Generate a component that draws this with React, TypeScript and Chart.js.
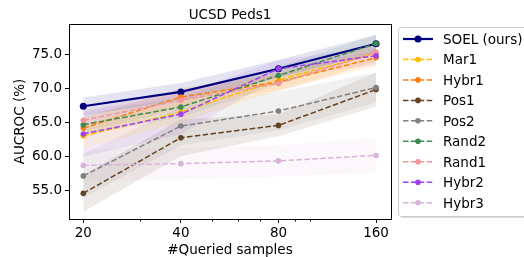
import React, { useEffect, useRef } from "react";
import { Chart, registerables } from "chart.js";

Chart.register(...registerables);

const queried = [20, 40, 80, 160];
const xTickLabels = ["20", "40", "80", "160"];
const xMinorTicks = [30, 50, 60, 70, 90, 100];
const yTicks = [55, 60, 65, 70, 75];

const seriesNames = ["SOEL (ours)", "Mar1", "Hybr1", "Pos1", "Pos2", "Rand2", "Rand1", "Hybr2", "Hybr3"];
const seriesColors = ["#000080", "#ffbf00", "#ff7f0e", "#654321", "#808080", "#3d8b4f", "#f0959b", "#a040f0", "#d8b4d8"];

const soel = [67.35, 69.45, 72.85, 76.5];
const mar1 = [63.0, 66.5, 71.2, 75.1];
const hybr1 = [64.15, 68.7, 70.9, 74.45];
const pos1 = [54.6, 62.75, 64.55, 69.8];
const pos2 = [57.15, 64.45, 66.65, 70.1];
const rand2 = [64.65, 67.25, 71.85, 76.55];
const rand1 = [65.3, 68.25, 70.7, 75.25];
const hybr2 = [63.3, 66.2, 72.85, 74.75];
const hybr3 = [58.7, 58.95, 59.35, 60.15];

const soelStd = [1.3, 1.3, 1.3, 1.3];
const mar1Std = [1.8, 1.5, 1.5, 1.3];
const hybr1Std = [1.5, 1.3, 1.2, 1.2];
const pos1Std = [2.7, 2.7, 1.6, 2.5];
const pos2Std = [3.2, 2.8, 2.8, 2.2];
const rand2Std = [1.5, 1.5, 1.3, 1.3];
const rand1Std = [1.5, 1.5, 1.3, 1.3];
const hybr2Std = [3.3, 3.0, 1.2, 1.3];
const hybr3Std = [2.3, 2.3, 2.3, 2.5];

const seriesValues = [soel, mar1, hybr1, pos1, pos2, rand2, rand1, hybr2, hybr3];
const seriesStd = [soelStd, mar1Std, hybr1Std, pos1Std, pos2Std, rand2Std, rand1Std, hybr2Std, hybr3Std];

const FONT = "DejaVu Sans";
const FS = 13.5;

function rgba(hex: string, a: number) {
  const n = parseInt(hex.slice(1), 16);
  return `rgba(${(n >> 16) & 255},${(n >> 8) & 255},${n & 255},${a})`;
}

export default function App() {
  const ref = useRef<HTMLCanvasElement>(null);
  useEffect(() => {
    document.body.style.margin = "0";
    const canvas = ref.current!;
    const datasets: any[] = [];
    seriesValues.forEach((vals, i) => {
      const std = seriesStd[i];
      datasets.push({
        label: "_lo" + i,
        data: queried.map((x, k) => ({ x, y: vals[k] - std[k] })),
        borderWidth: 0,
        pointRadius: 0,
        fill: false,
        order: 100 + i,
      });
      datasets.push({
        label: "_hi" + i,
        data: queried.map((x, k) => ({ x, y: vals[k] + std[k] })),
        borderWidth: 0,
        pointRadius: 0,
        fill: "-1",
        backgroundColor: rgba(seriesColors[i], 0.11),
        order: 100 + i,
      });
    });
    seriesValues.forEach((vals, i) => {
      const solid = i === 0;
      datasets.push({
        label: seriesNames[i],
        data: queried.map((x, k) => ({ x, y: vals[k] })),
        borderColor: seriesColors[i],
        backgroundColor: seriesColors[i],
        borderWidth: solid ? 2.2 : 1.5,
        borderDash: solid ? [] : [5.5, 2.4],
        pointRadius: solid ? 3.5 : 2.8,
        pointBorderWidth: 0,
        pointBackgroundColor: seriesColors[i],
        tension: 0,
        fill: false,
        order: 20 - i,
      });
    });

    const framePlugin = {
      id: "frame",
      afterDraw(chart: any) {
        const { ctx, chartArea: a, scales } = chart;
        ctx.save();
        ctx.strokeStyle = "#000";
        ctx.lineWidth = 1;
        ctx.strokeRect(Math.round(a.left) + 0.5, Math.round(a.top) + 0.5, Math.round(a.right - a.left), Math.round(a.bottom - a.top));
        // minor ticks
        ctx.beginPath();
        xMinorTicks.forEach((v) => {
          const px = Math.round(scales.x.getPixelForValue(v)) + 0.5;
          ctx.moveTo(px, a.bottom);
          ctx.lineTo(px, a.bottom + 2.5);
        });
        ctx.stroke();
        ctx.fillStyle = "#000";
        ctx.font = `${FS}px "${FONT}"`;
        ctx.textAlign = "center";
        ctx.textBaseline = "alphabetic";
        const cx = (a.left + a.right) / 2;
        ctx.fillText("UCSD Peds1", cx, 18.5);
        ctx.fillText("#Queried samples", cx, 253.5);
        ctx.save();
        ctx.translate(20, (a.top + a.bottom) / 2);
        ctx.rotate(-Math.PI / 2);
        ctx.textBaseline = "middle";
        ctx.fillText("AUCROC (%)", 0, 0);
        ctx.restore();

        // legend
        const lx = 398.5, ly = 27.5, lw = 140, lh = 189;
        ctx.fillStyle = "rgba(0,0,0,0.15)";
        ctx.beginPath();
        ctx.roundRect(lx + 1.5, ly + 1.5, lw, lh, 3);
        ctx.fill();
        ctx.fillStyle = "#fff";
        ctx.strokeStyle = "#cccccc";
        ctx.beginPath();
        ctx.roundRect(lx, ly, lw, lh, 3);
        ctx.fill();
        ctx.stroke();
        seriesNames.forEach((name, i) => {
          const y = 39 + i * 20.46;
          const col = seriesColors[i];
          ctx.strokeStyle = col;
          ctx.lineWidth = i === 0 ? 2.2 : 1.5;
          ctx.setLineDash(i === 0 ? [] : [5.5, 2.4]);
          ctx.beginPath();
          ctx.moveTo(403, y);
          ctx.lineTo(433, y);
          ctx.stroke();
          ctx.setLineDash([]);
          ctx.fillStyle = col;
          ctx.beginPath();
          ctx.arc(418, y, i === 0 ? 3.5 : 2.8, 0, Math.PI * 2);
          ctx.fill();
          ctx.fillStyle = "#000";
          ctx.textAlign = "left";
          ctx.textBaseline = "alphabetic";
          ctx.fillText(name, 443, y + 4.9);
        });
        ctx.restore();
      },
    };

    const chart = new Chart(canvas, {
      type: "line",
      data: { datasets },
      options: {
        animation: false,
        responsive: false,
        devicePixelRatio: 1,
        layout: { padding: { top: 24, right: 133, left: 0, bottom: 0 } },
        plugins: { legend: { display: false }, title: { display: false }, tooltip: { enabled: false } },
        scales: {
          x: {
            type: "logarithmic",
            min: 18.07,
            max: 177.9,
            afterBuildTicks: (s: any) => {
              s.ticks = queried.map((v) => ({ value: v }));
            },
            afterFit: (s: any) => {
              s.height = 38;
            },
            ticks: {
              autoSkip: false,
              maxRotation: 0,
              color: "#000",
              font: { family: FONT, size: FS },
              padding: 2,
              callback: (v: any) => {
                const idx = queried.indexOf(Number(v));
                return idx >= 0 ? xTickLabels[idx] : "";
              },
            },
            grid: { display: true, drawOnChartArea: false, drawTicks: true, tickLength: 4, color: "#000" },
            border: { display: false },
          },
          y: {
            type: "linear",
            min: 50.84,
            max: 79.4,
            afterBuildTicks: (s: any) => {
              s.ticks = yTicks.map((v) => ({ value: v }));
            },
            afterFit: (s: any) => {
              s.width = 69;
            },
            ticks: {
              color: "#000",
              font: { family: FONT, size: FS },
              padding: 3,
              callback: (v: any) => Number(v).toFixed(1),
            },
            grid: { display: true, drawOnChartArea: false, drawTicks: true, tickLength: 4, color: "#000" },
            border: { display: false },
          },
        },
      },
      plugins: [framePlugin],
    } as any);
    return () => chart.destroy();
  }, []);
  return (
    <div style={{ position: "fixed", left: 0, top: 0 }}>
      <canvas ref={ref} width={524} height={257} style={{ display: "block", width: 524, height: 257 }} />
    </div>
  );
}
